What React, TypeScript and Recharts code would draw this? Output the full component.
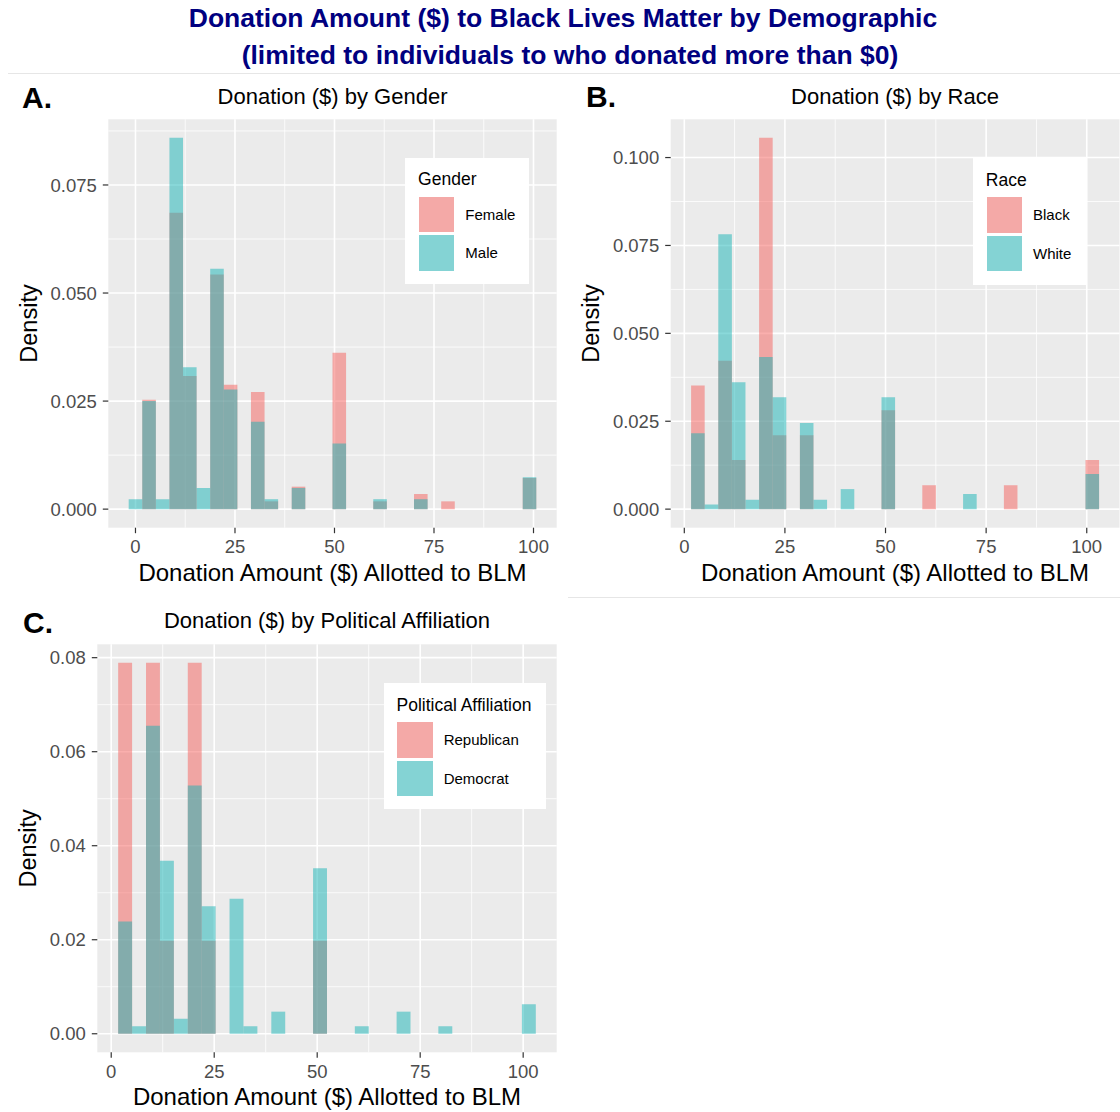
import { ComposedChart, Bar, XAxis, YAxis, CartesianGrid } from "recharts";

const FONT = '"Liberation Sans", Arial, Helvetica, sans-serif';
const PINK = "#F55F5B";
const TEAL = "#15B3B5";
const PANEL_BG = "#EBEBEB";
const TICK_LINE = "#333333";
const TICK_TEXT = "#4D4D4D";
const Y_AXIS_W = 60;
const X_AXIS_H = 40;

// x axis (shared)
const xTicks = [0, 25, 50, 75, 100];
const xMinor = [12.5, 37.5, 62.5, 87.5];

// A. gender: 30 bins, width 99/29, first bin centred on 0
const genderBinStart = 0;
const genderBinWidth = 99 / 29;
const female = [0, 0.0253, 0, 0.0686, 0.0308, 0, 0.0543, 0.0288, 0, 0.0271, 0.0018, 0, 0.0052, 0, 0, 0.0362, 0, 0, 0.0018, 0, 0, 0.0035, 0, 0.0018, 0, 0, 0, 0, 0, 0.0072];
const male = [0.0023, 0.025, 0.0023, 0.0859, 0.0328, 0.0049, 0.0556, 0.0277, 0, 0.0202, 0.0023, 0, 0.0049, 0, 0, 0.0152, 0, 0, 0.0023, 0, 0, 0.0023, 0, 0, 0, 0, 0, 0, 0, 0.0074];
const genderYTicks = [0, 0.025, 0.05, 0.075];
const genderYMinor = [0.0125, 0.0375, 0.0625, 0.0875];

// B. race: 30 bins, width 98/29
const raceBinWidth = 98 / 29;
const raceBinStart = raceBinWidth;
const black = [0.0352, 0, 0.0422, 0.014, 0, 0.1056, 0.021, 0, 0.021, 0, 0, 0, 0, 0, 0.0281, 0, 0, 0.0068, 0, 0, 0, 0, 0, 0.0068, 0, 0, 0, 0, 0, 0.014];
const white = [0.0216, 0.0013, 0.0782, 0.0361, 0.0027, 0.0433, 0.0318, 0, 0.0245, 0.0027, 0, 0.0057, 0, 0, 0.0318, 0, 0, 0, 0, 0, 0.0043, 0, 0, 0, 0, 0, 0, 0, 0, 0.01];
const raceYTicks = [0, 0.025, 0.05, 0.075, 0.1];
const raceYMinor = [0.0125, 0.0375, 0.0625, 0.0875];

// C. political affiliation
const partyBinWidth = 98 / 29;
const partyBinStart = partyBinWidth;
const republican = [0.0789, 0, 0.0789, 0.0198, 0, 0.0789, 0.0198, 0, 0, 0, 0, 0, 0, 0, 0.0198, 0, 0, 0, 0, 0, 0, 0, 0, 0, 0, 0, 0, 0, 0, 0];
const democrat = [0.0239, 0.0016, 0.0655, 0.0368, 0.0032, 0.0528, 0.0271, 0, 0.0287, 0.0016, 0, 0.0047, 0, 0, 0.0352, 0, 0, 0.0016, 0, 0, 0.0047, 0, 0, 0.0016, 0, 0, 0, 0, 0, 0.0063];
const partyYTicks = [0, 0.02, 0.04, 0.06, 0.08];
const partyYMinor = [0.01, 0.03, 0.05, 0.07];

type Margin = { top: number; right: number; bottom: number; left: number };

type PanelProps = {
  left: number;
  top: number;
  width: number;
  height: number;
  margin: Margin;
  binStart: number;
  binWidth: number;
  first: number[];
  second: number[];
  yTicks: number[];
  yMinor: number[];
  digits: number;
};

function Panel(p: PanelProps) {
  const data = p.first.map((v, i) => ({
    x: p.binStart + i * p.binWidth,
    a: v,
    b: p.second[i],
  }));
  const lo = p.binStart - p.binWidth / 2;
  const hi = p.binStart + (p.first.length - 0.5) * p.binWidth;
  const xPad = (hi - lo) * 0.05;
  const xDomain = [lo - xPad, hi + xPad];
  const yMax = Math.max(...p.first, ...p.second);
  const yDomain = [-0.05 * yMax, 1.05 * yMax];
  const plotW = p.width - p.margin.left - p.margin.right - Y_AXIS_W;
  const barSize = (plotW * p.binWidth) / (xDomain[1] - xDomain[0]) - 0.02;
  const tickStyle = { fill: TICK_TEXT, fontSize: 18.5, fontFamily: FONT };

  return (
    <div style={{ position: "absolute", left: p.left, top: p.top }}>
      <ComposedChart width={p.width} height={p.height} data={data} margin={p.margin} style={{ fontFamily: FONT }}>
        <CartesianGrid fill={PANEL_BG} fillOpacity={1} stroke="#FFFFFF" strokeWidth={0.8} horizontalValues={p.yMinor} verticalValues={xMinor} />
        <CartesianGrid fill="none" stroke="#FFFFFF" strokeWidth={1.6} horizontalValues={p.yTicks} verticalValues={xTicks} />
        <XAxis
          type="number"
          dataKey="x"
          domain={xDomain}
          ticks={xTicks}
          allowDataOverflow
          interval={0}
          height={X_AXIS_H}
          axisLine={false}
          tickLine={{ stroke: TICK_LINE, strokeWidth: 1.2 }}
          tickSize={5.5}
          tickMargin={7}
          tick={tickStyle}
        />
        <XAxis xAxisId="b" type="number" dataKey="x" domain={xDomain} allowDataOverflow hide />
        <YAxis
          type="number"
          domain={yDomain}
          ticks={p.yTicks}
          allowDataOverflow
          interval={0}
          width={Y_AXIS_W}
          axisLine={false}
          tickLine={{ stroke: TICK_LINE, strokeWidth: 1.2 }}
          tickSize={5.5}
          tickMargin={6}
          tick={tickStyle}
          tickFormatter={(v: number) => v.toFixed(p.digits)}
        />
        <Bar dataKey="a" fill={PINK} fillOpacity={0.5} stroke="none" barSize={barSize} isAnimationActive={false} />
        <Bar xAxisId="b" dataKey="b" fill={TEAL} fillOpacity={0.5} stroke="none" barSize={barSize} isAnimationActive={false} />
      </ComposedChart>
    </div>
  );
}

function LegendBox(props: { left: number; top: number; width: number; title: string; names: string[] }) {
  const colors = [PINK, TEAL];
  return (
    <div style={{ position: "absolute", left: props.left, top: props.top, width: props.width, height: 126.3, background: "#fff", fontFamily: FONT }}>
      <div style={{ position: "absolute", left: 12.8, top: 10.6, fontSize: 17.5, lineHeight: "22px", color: "#000", whiteSpace: "nowrap" }}>
        {props.title}
      </div>
      {props.names.map((n, i) => (
        <div key={n}>
          <div style={{ position: "absolute", left: 13.6, top: 39 + i * 38.6, width: 35.5, height: 35.5, background: "#F2F2F2" }}>
            <div style={{ width: "100%", height: "100%", background: colors[i], opacity: 0.5 }} />
          </div>
          <div style={{ position: "absolute", left: 60, top: 39 + i * 38.6, height: 35.5, lineHeight: "35.5px", fontSize: 15, color: "#000", whiteSpace: "nowrap" }}>
            {n}
          </div>
        </div>
      ))}
    </div>
  );
}

export default function App() {
  return (
    <div style={{ position: "absolute", left: 0, top: 0, width: 1120, height: 1112, background: "#fff", fontFamily: FONT }}>
      <svg width={1120} height={1112} style={{ position: "absolute", left: 0, top: 0 }} fontFamily={FONT}>
        <text x={563} y={26.5} textAnchor="middle" fontSize={26.5} fontWeight="bold" fill="#000080">
          Donation Amount ($) to Black Lives Matter by Demographic
        </text>
        <text x={570} y={63.5} textAnchor="middle" fontSize={26.5} fontWeight="bold" fill="#000080">
          (limited to individuals to who donated more than $0)
        </text>
        <line x1={8} y1={73.5} x2={1120} y2={73.5} stroke="#E6E6E6" strokeWidth={1} />
        <line x1={568} y1={597.5} x2={1120} y2={597.5} stroke="#E6E6E6" strokeWidth={1} />

        <text x={22} y={107.7} fontSize={30} fontWeight="bold" fill="#000">A.</text>
        <text x={586} y={107.3} fontSize={30} fontWeight="bold" fill="#000">B.</text>
        <text x={23} y={633} fontSize={30} fontWeight="bold" fill="#000">C.</text>

        <text x={332.5} y={103.5} textAnchor="middle" fontSize={22} fill="#000">Donation ($) by Gender</text>
        <text x={895} y={103.5} textAnchor="middle" fontSize={22} fill="#000">Donation ($) by Race</text>
        <text x={327} y={627.5} textAnchor="middle" fontSize={22} fill="#000">Donation ($) by Political Affiliation</text>

        <text x={332.5} y={581} textAnchor="middle" fontSize={24} fill="#000">Donation Amount ($) Allotted to BLM</text>
        <text x={895} y={581} textAnchor="middle" fontSize={24} fill="#000">Donation Amount ($) Allotted to BLM</text>
        <text x={327} y={1105} textAnchor="middle" fontSize={24} fill="#000">Donation Amount ($) Allotted to BLM</text>

        <text x={36.5} y={323.5} transform="rotate(-90 36.5 323.5)" textAnchor="middle" fontSize={23.5} fill="#000">Density</text>
        <text x={599} y={323.5} transform="rotate(-90 599 323.5)" textAnchor="middle" fontSize={23.5} fill="#000">Density</text>
        <text x={36.5} y={848.3} transform="rotate(-90 36.5 848.3)" textAnchor="middle" fontSize={23.5} fill="#000">Density</text>
      </svg>

      <Panel
        left={0}
        top={110}
        width={560}
        height={470}
        margin={{ top: 9.3, right: 3.3, bottom: 12.3, left: 48.3 }}
        binStart={genderBinStart}
        binWidth={genderBinWidth}
        first={female}
        second={male}
        yTicks={genderYTicks}
        yMinor={genderYMinor}
        digits={3}
      />
      <Panel
        left={560}
        top={110}
        width={560}
        height={470}
        margin={{ top: 9.3, right: 0.5, bottom: 12.3, left: 50.7 }}
        binStart={raceBinStart}
        binWidth={raceBinWidth}
        first={black}
        second={white}
        yTicks={raceYTicks}
        yMinor={raceYMinor}
        digits={3}
      />
      <Panel
        left={0}
        top={635}
        width={560}
        height={470}
        margin={{ top: 9.3, right: 3.3, bottom: 12.7, left: 37.3 }}
        binStart={partyBinStart}
        binWidth={partyBinWidth}
        first={republican}
        second={democrat}
        yTicks={partyYTicks}
        yMinor={partyYMinor}
        digits={2}
      />

      <LegendBox left={405.3} top={157.7} width={123.4} title="Gender" names={["Female", "Male"]} />
      <LegendBox left={973} top={158.3} width={113.3} title="Race" names={["Black", "White"]} />
      <LegendBox left={383.7} top={683} width={162} title="Political Affiliation" names={["Republican", "Democrat"]} />
    </div>
  );
}
